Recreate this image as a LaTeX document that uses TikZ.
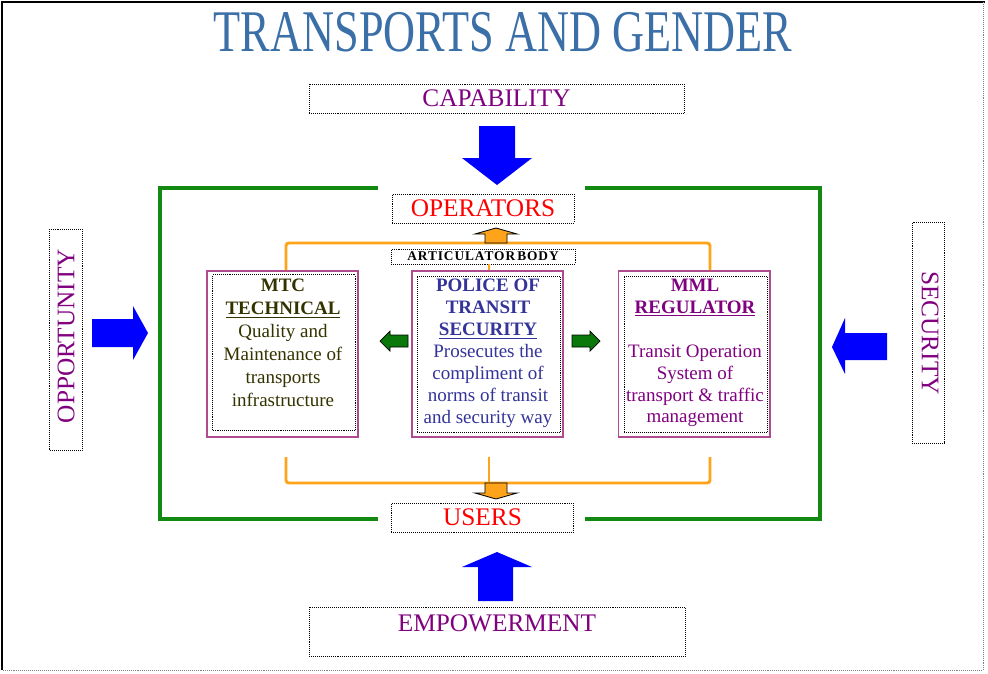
\documentclass[tikz,border=0pt]{standalone}
\usepackage{fontspec,graphicx}
\setmainfont{Liberation Serif}
\usetikzlibrary{positioning}
\definecolor{FRAMEGREEN}{HTML}{128A12}
\definecolor{LINKORANGE}{HTML}{FFA31A}
\definecolor{BOXPINK}{HTML}{B04C8E}
\definecolor{LABELPURPLE}{HTML}{800080}
\definecolor{TITLEBLUE}{HTML}{3B6FA8}
\definecolor{MTCTEXT}{HTML}{333300}
\definecolor{POLICETEXT}{HTML}{333399}
\definecolor{ARROWGREEN}{HTML}{0A780A}

\begin{document}
\begin{tikzpicture}[x=0.025cm, y=-0.025cm,
	labelbox/.style={draw=black, densely dotted, thin, fill=white, inner sep=0pt},
	labeltext/.style={font=\fontsize{18}{18}\selectfont, inner sep=0pt},
	pinkbox/.style={draw=BOXPINK, line width=1.4pt, fill=white, minimum width=3.775cm, minimum height=4.15cm, inner sep=0pt},
	innerbox/.style={draw=black, densely dotted, thin, inner sep=0pt, minimum width=3.57cm, minimum height=3.9cm},
	boxtext/.style={align=center, font=\fontsize{13.5}{15.6}\selectfont, inner sep=0pt},
	frame/.style={FRAMEGREEN, line width=2.8pt},
	link/.style={LINKORANGE, line width=2.1pt, rounded corners=2pt},
	linkarrow/.style={fill=LINKORANGE, draw=black, line width=0.6pt},
	bluearrow/.style={fill=blue},
	greenarrow/.style={fill=ARROWGREEN, draw=black, line width=0.5pt}]
	\useasboundingbox (0,0) rectangle (988,673);

	% page border
	\draw[line width=2pt] (2,670) -- (2,2) -- (985,2);
	\draw[densely dotted, gray] (983,2) -- (983,670) -- (2,670);

	% title
	\node [text=TITLEBLUE, font=\fontsize{42}{42}\selectfont, inner sep=0pt] (title) at (503,32) {\scalebox{0.75}[1]{TRANSPORTS AND GENDER}};

	% green frame
	\draw[frame] (378,188) -- (160,188) -- (160,519) -- (378,519);
	\draw[frame] (585,519) -- (820,519) -- (820,188) -- (585,188);

	% outer labels
	\node [labelbox, minimum width=9.375cm, minimum height=0.725cm] (capability) at (496.5,98.5) {};
	\node [labeltext, text=LABELPURPLE] at (capability) {CAPABILITY};

	\node [labelbox, minimum width=9.4cm, minimum height=1.225cm] (empowerment) at (497,631.5) {};
	\node [labeltext, text=LABELPURPLE] at (497,623) {EMPOWERMENT};

	\node [labelbox, rotate=90, minimum width=5.525cm, minimum height=0.825cm] (opportunity) at (65.5,339.5) {};
	\node [labeltext, text=LABELPURPLE, rotate=90] at (66,336) {OPPORTUNITY};

	\node [labelbox, rotate=-90, minimum width=5.525cm, minimum height=0.8cm] (security) at (928,332.5) {};
	\node [labeltext, text=LABELPURPLE, rotate=-90] at (930,333) {SECURITY};

	% inner labels
	\node [labelbox, minimum width=4.55cm, minimum height=0.725cm] (operators) at (483,208.5) {};
	\node [labeltext, text=red] at (operators) {OPERATORS};

	\node [labelbox, minimum width=4.55cm, minimum height=0.725cm] (users) at (482.5,517.5) {};
	\node [labeltext, text=red] at (users) {USERS};

	\node [labelbox, minimum width=4.6cm, minimum height=0.375cm] (artic) at (483,256.5) {};
	\node [inner sep=0pt, font=\fontsize{9.5}{9.5}\selectfont\bfseries\addfontfeature{LetterSpace=7}] at (artic) {ARTICULATOR\kern1.5pt BODY};

	% blue arrows
	\fill[bluearrow] (479,126) -- (515,126) -- (515,158) -- (532,158) -- (497,185) -- (462,158) -- (479,158) -- cycle;
	\fill[bluearrow] (478,601) -- (513,601) -- (513,567) -- (532,567) -- (497,552) -- (462,567) -- (478,567) -- cycle;
	\fill[bluearrow] (92,319) -- (133,319) -- (133,306) -- (148,333) -- (133,360) -- (133,347) -- (92,347) -- cycle;
	\fill[bluearrow] (887,333) -- (845,333) -- (845,318) -- (832,347) -- (845,374) -- (845,360) -- (887,360) -- cycle;

	% three bodies
	\node [pinkbox] (mtc) at (282.5,354) {};
	\node [innerbox] (mtcin) at (284,352.5) {};
	\node [boxtext, text=MTCTEXT, font=\fontsize{13.5}{16.3}\selectfont] at (283,343) {\textbf{MTC}\\\textbf{\underline{TECHNICAL}}\\Quality and\\Maintenance of\\transports\\infrastructure};

	\node [pinkbox] (police) at (487.5,354) {};
	\node [innerbox] (policein) at (488.5,354) {};
	\node [boxtext, text=POLICETEXT] at (488,353.5) {\textbf{POLICE OF}\\\textbf{TRANSIT}\\\textbf{\underline{SECURITY}}\\Prosecutes the\\compliment of\\norms of transit\\and security way};

	\node [pinkbox] (mml) at (694,354) {};
	\node [innerbox] (mmlin) at (695.5,354) {};
	\node [boxtext, text=LABELPURPLE] at (695,353) {\textbf{MML}\\\textbf{\underline{REGULATOR}}\\[15.6pt]Transit Operation\\System of\\transport \& traffic\\management};

	% green arrows
	\filldraw[greenarrow] (408,335) -- (390,335) -- (390,331) -- (380,341) -- (390,351) -- (390,347) -- (408,347) -- cycle;
	\filldraw[greenarrow] (572,335) -- (590,335) -- (590,331) -- (600,341) -- (590,351) -- (590,347) -- (572,347) -- cycle;

	% orange links
	\coordinate (tl) at (286,243);
	\coordinate (tr) at (710,243);
	\coordinate (bl) at (286,483);
	\coordinate (br) at (710,483);
	\coordinate (bm) at (489,483);
	\draw[link] (mtc.north -| tl) -- (tl) -- (tr) -- (mml.north -| tr);
	\draw[link] (police.north -| bm) -- (artic.south -| bm);
	\draw[link] (286,457) -- (bl) -- (br) -- (710,457);
	\draw[link] (489,457) -- (bm);
	\filldraw[linkarrow] (485,243) -- (485,234) -- (475,234) -- (496,228) -- (517,234) -- (507,234) -- (507,243) -- cycle;
	\filldraw[linkarrow] (485,483) -- (485,493) -- (475,493) -- (496,499) -- (517,493) -- (507,493) -- (507,483) -- cycle;
\end{tikzpicture}
\end{document}
